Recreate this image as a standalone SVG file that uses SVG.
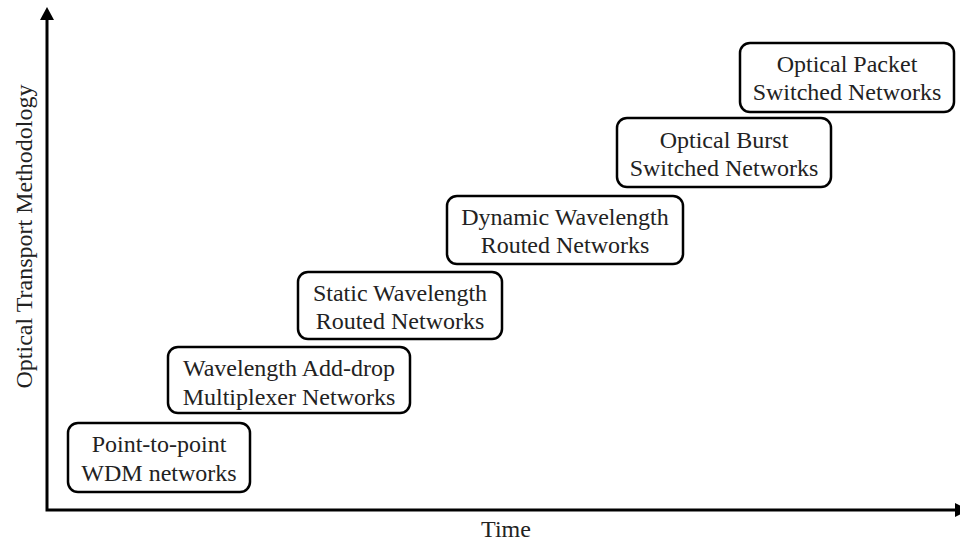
<svg xmlns="http://www.w3.org/2000/svg" width="960" height="543" viewBox="0 0 960 543">
<style>
  .box { fill: #ffffff; stroke: #000000; stroke-width: 2.5; }
  .lbl { font-family: "Liberation Serif", "Times New Roman", serif; font-size: 24px; fill: #222222; text-anchor: middle; }
  .axis { stroke: #000000; stroke-width: 3; fill: none; }
</style>
<rect width="960" height="543" fill="#ffffff"/>
<g id="axes">
  <polyline class="axis" points="47,19 47,510 956,510"/>
  <polygon points="47,7 40,20 54,20" fill="#000"/>
  <polygon points="955,503 969,510 955,517" fill="#000"/>
  <text class="lbl" x="506" y="537">Time</text>
  <text class="lbl" transform="translate(31.5,236.5) rotate(-90)">Optical Transport Methodology</text>
</g>
<g id="n1">
  <rect class="box" x="68" y="423" width="182" height="69" rx="10"/>
  <text class="lbl" x="159" y="452">Point-to-point</text>
  <text class="lbl" x="159" y="481">WDM networks</text>
</g>
<g id="n2">
  <rect class="box" x="168" y="347" width="242" height="66" rx="10"/>
  <text class="lbl" x="289" y="376">Wavelength Add-drop</text>
  <text class="lbl" x="289" y="405">Multiplexer Networks</text>
</g>
<g id="n3">
  <rect class="box" x="298" y="272" width="204" height="67" rx="10"/>
  <text class="lbl" x="400" y="301">Static Wavelength</text>
  <text class="lbl" x="400" y="329">Routed Networks</text>
</g>
<g id="n4">
  <rect class="box" x="447" y="196" width="236" height="68" rx="10"/>
  <text class="lbl" x="565" y="225">Dynamic Wavelength</text>
  <text class="lbl" x="565" y="253">Routed Networks</text>
</g>
<g id="n5">
  <rect class="box" x="617" y="118" width="214" height="69" rx="10"/>
  <text class="lbl" x="724" y="148">Optical Burst</text>
  <text class="lbl" x="724" y="176">Switched Networks</text>
</g>
<g id="n6">
  <rect class="box" x="740" y="43" width="214" height="69" rx="10"/>
  <text class="lbl" x="847" y="72">Optical Packet</text>
  <text class="lbl" x="847" y="100">Switched Networks</text>
</g>
<g id="connectors"></g>
</svg>
